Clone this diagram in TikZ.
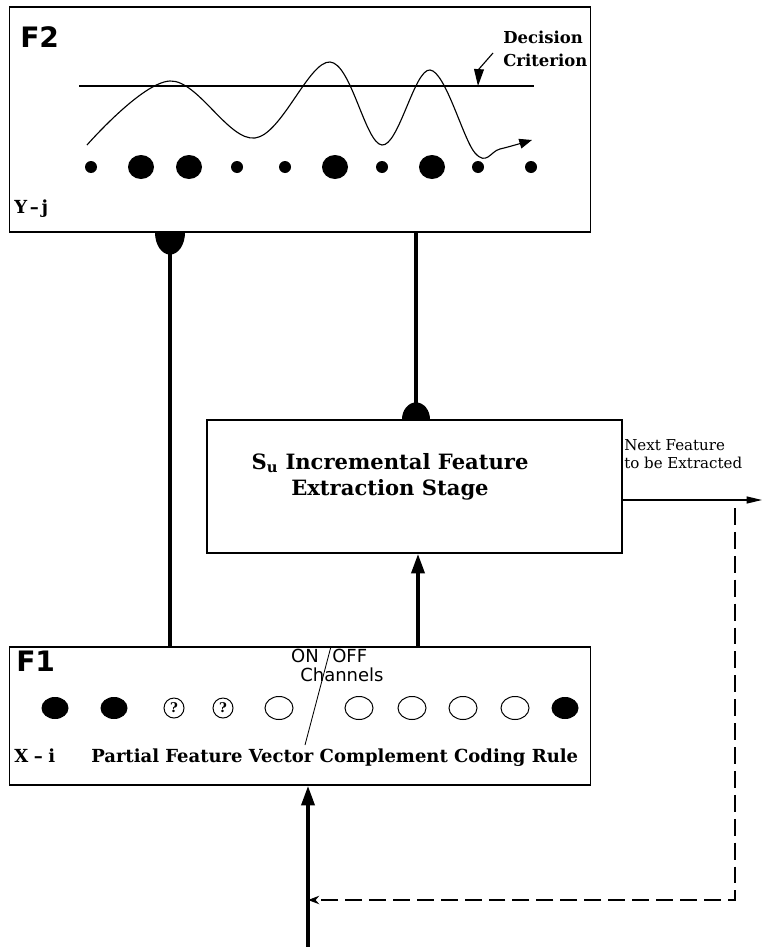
\documentclass[tikz,border=0pt]{standalone}
\usepackage{fontspec}
\setmainfont{DejaVu Serif}
\setsansfont{DejaVu Sans}
\usetikzlibrary{arrows.meta, positioning, calc}

\begin{document}
\begin{tikzpicture}[
  x=0.025cm, y=-0.025cm,
  layer/.style={draw, line width=0.8pt, inner sep=0pt, minimum width=14.5cm},
  stage/.style={draw, line width=0.8pt, inner sep=0pt, minimum width=10.375cm, minimum height=3.325cm},
  wire/.style={line width=3pt},
  arrow/.style={-{Triangle[length=14pt, width=9pt]}, line width=3pt},
  thinarrow/.style={-{Triangle[length=11pt, width=5pt]}, line width=0.9pt},
  feedback/.style={-{Stealth[length=8pt, width=6pt]}, line width=0.8pt, dash pattern=on 12pt off 5pt},
  lbl/.style={font=\sffamily\bfseries\fontsize{20}{24}\selectfont, inner sep=0pt, anchor=base west},
  txt/.style={font=\bfseries\fontsize{12.8}{16}\selectfont, inner sep=0pt, anchor=base west},
  chan/.style={font=\sffamily\fontsize{12.8}{15}\selectfont, inner sep=0pt},
  unk/.style={draw, circle, line width=0.7pt, minimum size=0.5cm, inner sep=0pt,
              font=\bfseries\fontsize{9.5}{10}\selectfont}
]
  \useasboundingbox (0,0) rectangle (767,947);

  \node[layer, minimum height=5.625cm] (F2) at (300,119.5) {};
  \node[stage] (Su) at (414.5,486.5) {};
  \node[layer, minimum height=3.45cm] (F1) at (300,716) {};

  \node[lbl] (f2lbl) at (20,48) {F2};
  \node[txt] (yj) at (14,213) {Y\hspace{2pt}--\hspace{2pt}j};
  \node[font=\bfseries\fontsize{11.7}{16.4}\selectfont, inner sep=0pt, align=left,
        anchor=north west] (crit) at (503,31) {Decision\\Criterion};
  \node[font=\bfseries\fontsize{15}{18.5}\selectfont, inner sep=0pt, align=center]
        (sulbl) at (390,477) {S\textsubscript{u} Incremental Feature\\Extraction Stage};
  \node[font=\fontsize{10.7}{12.8}\selectfont, inner sep=0pt, align=left,
        anchor=north west] (next) at (624,439) {Next Feature\\to be Extracted};
  \node[lbl] (f1lbl) at (16,671) {F1};
  \node[chan, anchor=base east] (on) at (319,662) {ON};
  \node[chan, anchor=base west] (off) at (332,662) {OFF};
  \node[chan, anchor=base west] (chn) at (300,681) {Channels};
  \node[txt] (xi) at (14,762) {X\hspace{4pt}--\hspace{4pt}i};
  \node[txt] (pfv) at (91,762) {Partial Feature Vector Complement Coding Rule};

  \draw[line width=0.8pt] (79,86) -- (534,86);
  \coordinate (ptr) at (493,53);
  \coordinate (pbend) at (479,69);
  \coordinate (pend) at (478,86);
  \draw[line width=0.8pt, -{Triangle[length=12pt, width=7pt]}] (ptr) -- (pbend) -- (pend);
  \draw[line width=0.8pt, -{Triangle[length=9pt, width=7pt]}] plot[smooth, tension=0.6]
    coordinates {(87,145) (170,81) (255,138) (330,62) (382,145) (430,70) (475,153) (500,149) (532,140)};
  \foreach \x/\rx/\ry in {91/6/6, 141/13/12, 189/13/12, 237/6/6, 285/6/6, 335/13/12,
                          382/6/6, 432/13/12, 478/6/6, 531/6/6}
    \fill (\x,167) ellipse[x radius=\rx, y radius=\ry];

  \foreach \x in {55,114,565}
    \fill (\x,708) ellipse[x radius=13.5, y radius=11];
  \foreach \x in {279,359,412,463,515}
    \draw[line width=0.7pt] (\x,708) ellipse[x radius=14, y radius=11.5];
  \foreach \x in {174,223}
    \node[unk] at (\x,708) {?};

  \coordinate (lw) at (170,0);
  \coordinate (rw) at (416,0);
  \coordinate (up) at (418,0);
  \coordinate (st) at (331,0);
  \coordinate (sl) at (305,745);
  \coordinate (inp) at (308,947);
  \coordinate (out) at (762,500);
  \coordinate (fb) at (735,508);
  \coordinate (fbc) at (735,900);

  \draw[wire] (F2.south -| lw) -- (F1.north -| lw);
  \fill ($(F2.south -| lw)+(-15,0)$) arc[start angle=180, end angle=0, x radius=15, y radius=22] -- cycle;
  \draw[wire] (Su.north -| rw) -- (F2.south -| rw);
  \fill ($(Su.north -| rw)+(-14,0)$) arc[start angle=180, end angle=360, x radius=14, y radius=17] -- cycle;
  \draw[arrow] (F1.north -| up) -- (Su.south -| up);
  \draw[arrow] (inp) -- (F1.south -| inp);
  \draw[thinarrow] (Su.east |- out) -- (out);
  \draw[feedback] (fb) -- (fbc) -- (fbc -| inp);
  \draw[line width=0.6pt] (F1.north -| st) -- (sl);
\end{tikzpicture}
\end{document}
